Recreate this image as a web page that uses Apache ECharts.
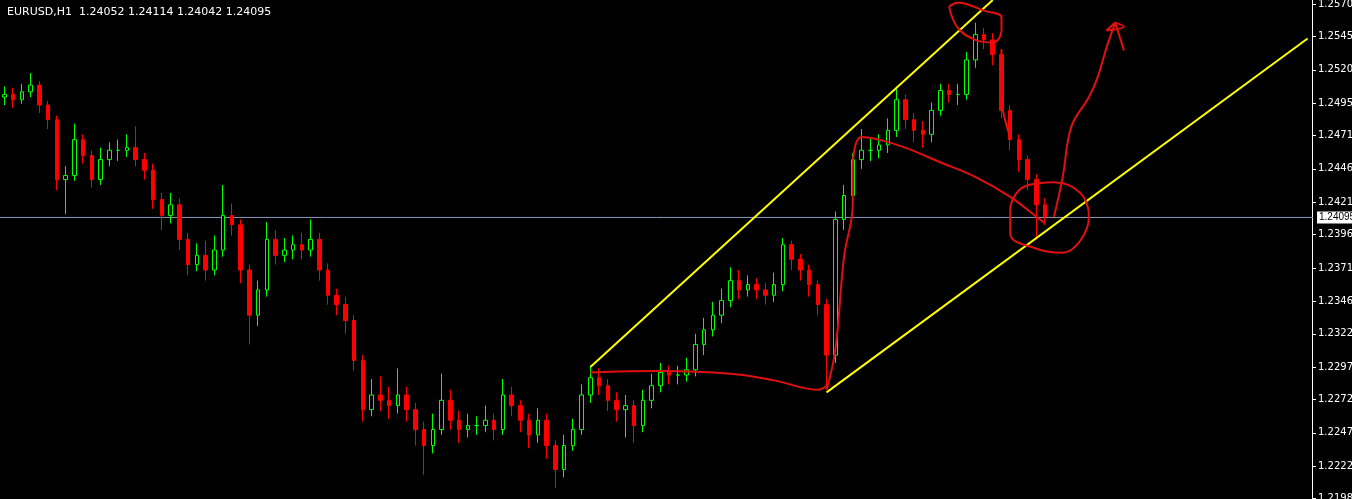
<!DOCTYPE html>
<html><head><meta charset="utf-8">
<script src="https://cdn.jsdelivr.net/npm/echarts@6/dist/echarts.min.js"></script>
<style>html,body{margin:0;background:#000}#c{width:1352px;height:499px}</style>
</head><body><div id="c"></div>
<script>
const closes=[1.2502,1.2498,1.2504,1.2509,1.2494,1.2483,1.2438,1.2441,1.2468,1.2456,1.2438,1.2453,1.2460,1.2460,1.2462,1.2453,1.2445,1.2423,1.2411,1.2419,
1.2393,1.2374,1.2381,1.2370,1.2385,1.2411,1.2404,1.2370,1.2336,1.2355,1.2393,1.2381,1.2385,1.2389,1.2385,1.2393,1.2370,1.2351,1.2344,1.2332,
1.2302,1.2265,1.2276,1.2272,1.2268,1.2276,1.2265,1.2250,1.2238,1.2250,1.2272,1.2257,1.2250,1.2253,1.2253,1.2257,1.2250,1.2276,1.2268,1.2257,
1.2246,1.2257,1.2238,1.2220,1.2238,1.2250,1.2276,1.2289,1.2283,1.2272,1.2265,1.2268,1.2253,1.2272,1.2283,1.2293,1.2291,1.2291,1.2295,1.2314,
1.2325,1.2336,1.2347,1.2362,1.2355,1.2359,1.2355,1.2351,1.2359,1.2389,1.2378,1.2370,1.2359,1.2344,1.2306,1.2408,1.2426,1.2453,1.2460,1.2460,
1.2464,1.2475,1.2498,1.2483,1.2475,1.2472,1.2490,1.2505,1.2502,1.2502,1.2528,1.2547,1.2543,1.2532,1.2490,1.2468,1.2453,1.2438,1.2419,1.2410];
const highs=[1.2508,1.2507,1.2510,1.2518,1.2512,1.2497,1.2486,1.2448,1.2480,1.2472,1.2460,1.2462,1.2466,1.2468,1.2472,1.2478,1.2458,1.2450,1.2428,1.2428,
1.2424,1.2398,1.2390,1.2392,1.2396,1.2434,1.2420,1.2408,1.2374,1.2362,1.2406,1.2400,1.2394,1.2396,1.2398,1.2408,1.2398,1.2375,1.2356,1.2350,
1.2336,1.2306,1.2288,1.2290,1.2282,1.2296,1.2282,1.2270,1.2256,1.2262,1.2292,1.2280,1.2264,1.2262,1.2260,1.2268,1.2262,1.2288,1.2282,1.2272,
1.2262,1.2266,1.2262,1.2242,1.2246,1.2258,1.2284,1.2298,1.2296,1.2288,1.2278,1.2276,1.2272,1.2280,1.2292,1.2300,1.2298,1.2298,1.2304,1.2322,
1.2334,1.2346,1.2356,1.2372,1.2370,1.2366,1.2364,1.2360,1.2368,1.2394,1.2392,1.2382,1.2374,1.2362,1.2348,1.2414,1.2434,1.2458,1.2476,1.2470,
1.2472,1.2484,1.2508,1.2502,1.2488,1.2482,1.2496,1.2510,1.2510,1.2510,1.2534,1.2556,1.2552,1.2548,1.2536,1.2494,1.2472,1.2456,1.2442,1.2424];
const lows=[1.2494,1.2492,1.2495,1.2500,1.2488,1.2476,1.2430,1.2412,1.2437,1.2450,1.2432,1.2434,1.2448,1.2452,1.2455,1.2448,1.2438,1.2416,1.2400,1.2405,
1.2385,1.2366,1.2369,1.2362,1.2366,1.2380,1.2396,1.2360,1.2314,1.2328,1.2350,1.2374,1.2376,1.2378,1.2378,1.2380,1.2362,1.2344,1.2336,1.2322,
1.2294,1.2256,1.2260,1.2264,1.2258,1.2262,1.2256,1.2238,1.2216,1.2232,1.2246,1.2250,1.2240,1.2244,1.2246,1.2248,1.2242,1.2246,1.2260,1.2248,
1.2236,1.2240,1.2228,1.2206,1.2214,1.2234,1.2246,1.2270,1.2276,1.2264,1.2256,1.2244,1.2240,1.2248,1.2266,1.2278,1.2284,1.2284,1.2286,1.2290,
1.2306,1.2320,1.2330,1.2342,1.2348,1.2350,1.2348,1.2344,1.2346,1.2354,1.2370,1.2362,1.2350,1.2336,1.2280,1.2300,1.2400,1.2420,1.2446,1.2452,
1.2454,1.2458,1.2470,1.2476,1.2466,1.2462,1.2466,1.2486,1.2496,1.2494,1.2498,1.2522,1.2536,1.2524,1.2484,1.2460,1.2444,1.2430,1.2393,1.2404];
const firstOpen=1.2500;
const tickLabels=[1.25700,1.25455,1.25205,1.24955,1.24710,1.24460,1.24210,1.23965,1.23715,1.23465,1.23220,1.22970,1.22725,1.22475,1.22225,1.21980];
const currentPrice=1.24095;
const upperChannel=[[67,1.2297],[113,1.2573]];
const lowerChannel=[[94,1.2278],[149,1.2544]];
const redBase=[[67,1.2293],[75,1.2294],[83,1.2292],[88,1.2287],[93,1.2280],[93.5,1.2283]];
const redRise=[[94,1.2280],[95,1.2310],[96,1.2380],[96.5,1.2420],[97,1.2445],[98,1.2470],[100,1.2468],[103,1.2462],[107,1.2451],[111,1.2440],[115,1.2425],[118,1.2410],[119,1.2405]];
const redDrop=[[114,1.2536],[114.2,1.2500],[114.5,1.2470]];
const topCircle=[[108,1.2568],[109,1.2552],[111,1.2543],[113,1.2541],[114,1.2550],[113.5,1.2560],[112,1.2565],[110,1.2570],[108.5,1.2571],[108,1.2568]];
const botCircle=[[118,1.2435],[116,1.2430],[114.5,1.2415],[115,1.2397],[118,1.2386],[121,1.2383],[123,1.2392],[124,1.2410],[122.5,1.2428],[120,1.2436],[118,1.2435]];
const arrowPath=[[120,1.2410],[120.5,1.2440],[121.5,1.2478],[123.5,1.2500],[125,1.2515],[126,1.2537],[127,1.2556],[126,1.2550],[128,1.2553],[127,1.2556],[128,1.2535]];

const n=150;
const cats=[];for(let i=0;i<n;i++)cats.push(i);
const ohlc=closes.map((c,i)=>[i===0?firstOpen:closes[i-1],c,lows[i],highs[i]]);
const red=(d)=>({type:'line',data:d,smooth:0.4,symbol:'none',lineStyle:{color:'#e01010',width:2},silent:true,z:5});
const chart=echarts.init(document.getElementById('c'));
chart.setOption({
 backgroundColor:'#000',animation:false,
 title:{text:'EURUSD,H1  1.24052 1.24114 1.24042 1.24095',left:2,top:2,textStyle:{color:'#fff',fontSize:11,fontWeight:'normal',fontFamily:'DejaVu Sans'}},
 grid:{left:0,right:40,top:0,bottom:0,outerBoundsMode:'none',containLabel:false},
 xAxis:{type:'category',data:cats,boundaryGap:['0.3%','0.3%'],axisLine:{show:false},axisTick:{show:false},axisLabel:{show:false},splitLine:{show:false}},
 yAxis:{type:'value',position:'right',min:1.21978,max:1.25730,scale:true,
  axisLine:{show:true,lineStyle:{color:'#fff',width:1}},
  axisTick:{show:true,customValues:tickLabels,length:4,lineStyle:{color:'#fff'}},
  axisLabel:{show:true,customValues:tickLabels,color:'#fff',fontSize:10,fontFamily:'DejaVu Sans',margin:6,formatter:v=>v.toFixed(5)},
  splitLine:{show:false}},
 series:[
  {type:'line',data:[[-1,currentPrice],[150,currentPrice]],symbol:'none',lineStyle:{color:'#8c96b8',width:1},z:1,
   endLabel:{show:true,formatter:'1.24095',backgroundColor:'#fff',color:'#000',fontSize:10,padding:[1,2],distance:4}},
  {type:'candlestick',data:ohlc,barWidth:4,z:2,
   itemStyle:{color:'#000',color0:'#ff0000',borderColor:'#00ff00',borderColor0:'#ff0000',borderWidth:1}},
  {type:'line',data:upperChannel,symbol:'none',lineStyle:{color:'#ffff00',width:2},z:4},
  {type:'line',data:lowerChannel,symbol:'none',lineStyle:{color:'#ffff00',width:2},z:4},
  red(redBase),red(redRise),red(redDrop),red(topCircle),red(botCircle),red(arrowPath)
 ]
});
</script></body></html>
